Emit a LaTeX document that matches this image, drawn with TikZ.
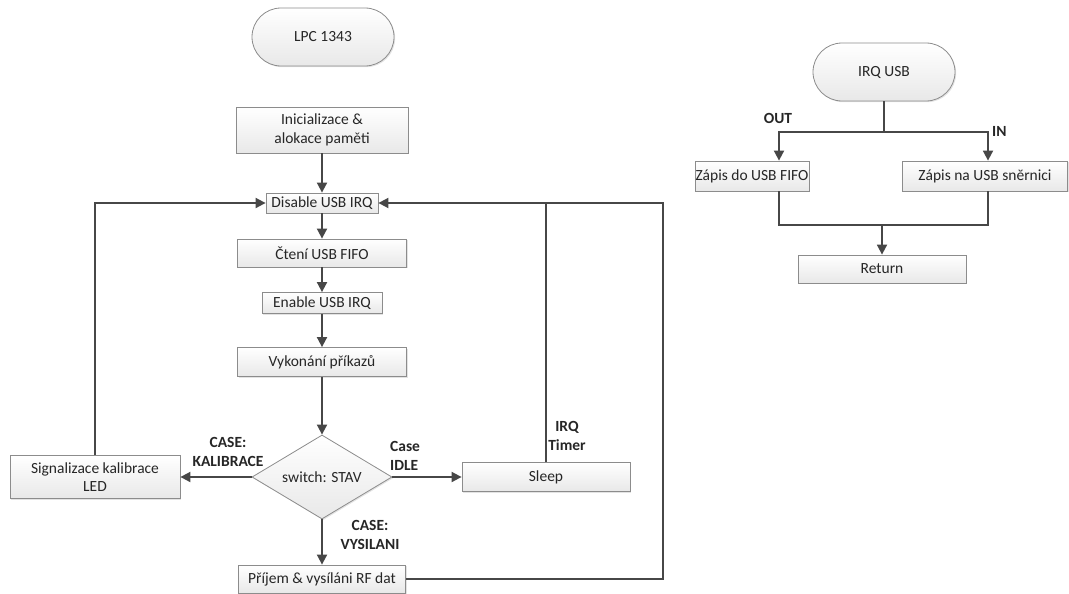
\documentclass[tikz,border=0pt]{standalone}
\usepackage{fontspec}
\setmainfont{Carlito}
\usetikzlibrary{shapes.geometric,shapes.misc,arrows.meta,shadows,calc}

\begin{document}
\begin{tikzpicture}[x=1pt,y=1pt,
  every node/.style={font=\fontsize{15.5}{18.5}\selectfont, text=black!85},
  flowbox/.style={draw=black!45, line width=0.8pt, top color=white, bottom color=black!9,
    inner sep=0pt, align=center,
    drop shadow={shadow xshift=1.2pt, shadow yshift=-1.2pt, fill=black!18, opacity=0.6}},
  term/.style={flowbox, rounded rectangle, minimum width=142pt, minimum height=58pt},
  decide/.style={flowbox, diamond, shape aspect=1.67, minimum width=140pt, minimum height=84pt},
  conn/.style={draw=black!72, line width=1.8pt},
  flow/.style={conn, -{Triangle[length=10pt,width=10pt]}},
  caselabel/.style={font=\bfseries\fontsize{15.5}{19.5}\selectfont, align=center, inner sep=0pt}
]
\useasboundingbox (0,0) rectangle (1069,-594);

% main program
\node[term] (lpc) at (323,-37) {LPC 1343};
\node[flowbox, minimum width=172pt, minimum height=46pt] (init) at (322,-130) {Inicializace \&\\alokace paměti};
\node[flowbox, minimum width=112pt, minimum height=20pt] (dis) at (322,-203) {Disable USB IRQ};
\node[flowbox, minimum width=169pt, minimum height=28pt] (cten) at (322,-253) {Čtení USB FIFO};
\node[flowbox, minimum width=120pt, minimum height=21pt] (en) at (322,-303) {Enable USB IRQ};
\node[flowbox, minimum width=169pt, minimum height=29pt] (vyk) at (322,-362) {Vykonání příkazů};
\node[decide] (sw) at (322,-477) {switch: STAV};
\node[flowbox, minimum width=170pt, minimum height=43pt] (sig) at (95,-477) {Signalizace kalibrace\\LED};
\node[flowbox, minimum width=168pt, minimum height=29pt] (sleep) at (546,-477) {Sleep};
\node[flowbox, minimum width=167pt, minimum height=28pt] (prij) at (322,-579) {Příjem \& vysíláni RF dat};

\coordinate (back) at (663,-203);

\draw[flow] (init) -- (dis);
\draw[flow] (dis) -- (cten);
\draw[flow] (cten) -- (en);
\draw[flow] (en) -- (vyk);
\draw[flow] (vyk) -- (sw);
\draw[flow] (sw.west) -- (sig.east);
\draw[flow] (sw.east) -- (sleep.west);
\draw[flow] (sw.south) -- (prij.north);
\draw[flow] (sig.north) |- (dis.west);
\draw[flow] (prij.east) -| (back) -- (dis.east);
\draw[conn] (sleep.north) -- (sleep.north |- back);

\node[caselabel] (lkal) at (228,-452) {CASE:\\KALIBRACE};
\node[caselabel, align=left, anchor=west] (lidle) at (390,-456) {Case\\IDLE};
\node[caselabel] (lvys) at (370,-535) {CASE:\\VYSILANI};
\node[caselabel] (ltim) at (567,-436) {IRQ\\Timer};

% USB interrupt routine
\node[term] (irq) at (884,-72) {IRQ USB};
\node[flowbox, minimum width=114pt, minimum height=30pt] (fifo) at (752,-176) {Zápis do USB FIFO};
\node[flowbox, minimum width=165pt, minimum height=30pt] (sber) at (985,-176) {Zápis na USB snĕrnici};
\node[flowbox, minimum width=168pt, minimum height=28pt] (ret) at (882,-269) {Return};

\coordinate (split) at (884,-132);
\coordinate (outb) at (779,-132);
\coordinate (inb) at (988,-132);
\coordinate (join) at (882,-225);

\draw[conn] (irq.south) -- (split);
\draw[flow] (split) -- (outb) -- (outb |- fifo.north);
\draw[flow] (split) -- (inb) -- (inb |- sber.north);
\draw[conn] (outb |- fifo.south) |- (join) -| (inb |- sber.south);
\draw[flow] (join) -- (ret.north);

\node[caselabel] (lout) at (778,-118) {OUT};
\node[caselabel, anchor=west] (lin) at (992,-131) {IN};
\end{tikzpicture}
\end{document}
